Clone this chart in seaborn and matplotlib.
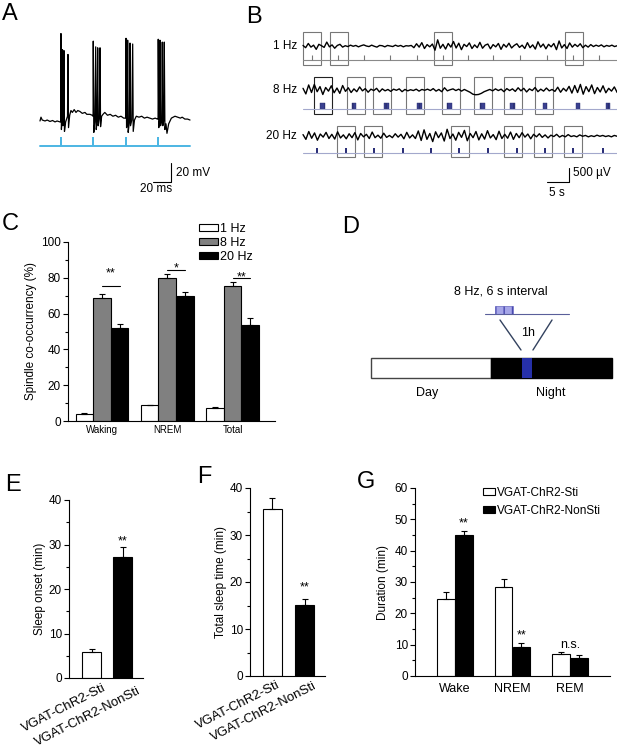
import numpy as np
import pandas as pd
import matplotlib
matplotlib.use("Agg")
import matplotlib.pyplot as plt
from matplotlib.patches import Rectangle, Patch
from matplotlib.ticker import MultipleLocator
from matplotlib.transforms import ScaledTranslation
import seaborn as sns

# ---------------- data ----------------
# A: whole-cell trace (ms, mV) and light pulses (ms)
a_time = [0, 1.1, 2.5, 5.6, 8, 11.1, 14, 16.7, 19, 22.2,
          23.0, 23.3, 23.8, 24.5, 25.0, 25.5, 26.2, 26.7, 27.2, 28.5, 30.6, 31.1, 31.7, 33, 34.4, 36, 38, 40, 42, 44.4, 47, 50, 52, 55.6, 58,
          59.0, 59.2, 59.8, 61.0, 61.9, 62.5, 63.5, 64.1, 64.7, 66.0, 66.7, 67.3, 68.5, 70, 72, 75, 78, 81, 84, 87, 90, 93,
          95.3, 95.6, 96.2, 97.0, 97.4, 98.0, 99.3, 100.0, 100.6, 102, 103, 103.6, 105, 107, 110, 113, 116, 119, 122, 125, 128, 130.5,
          131.2, 131.4, 132.0, 133.0, 133.3, 134.0, 135.3, 135.9, 136.5, 137.5, 138.1, 138.8, 140, 141.1, 143, 146, 150, 153, 156, 158, 161, 164, 166.7]
a_volt = [-61, -57, -60, -61, -60, -61.5, -60.5, -62, -61, -62,
          -62, 31, -70, -60, 14, -66, -58, 13, -72, -62, -56, 9, -68, -55, -50, -52, -49, -52, -50, -51, -53, -52, -54, -54, -55,
          -56, 23, -73, -62, 17, -70, -60, 16, -66, -58, 16, -67, -56, -54, -52, -55, -54, -56, -55, -57, -56, -58,
          -58, 26, -68, -60, 24, -73, -62, 21, -66, -60, 20, -72, -60, -56, -57, -56, -58, -57, -58, -59, -58, -59,
          -59, 25, -68, -60, 24, -66, -60, 22, -66, -60, 22, -70, -64, -74, -64, -58, -56, -57, -58, -57, -59, -59, -60]
a_pulses = [23.3, 59.2, 95.6, 131.4]
a_length = 166.7

# B: EEG traces (uV), stimulus times (s), spindle boxes (start, s)
b_rows = ["1 Hz", "8 Hz", "20 Hz"]
b_length = 71.4
eeg_1hz = [20, -60, 90, -40, 30, -120, 60, 10, -50, 140, -30, 40, -80, 20, 60, -40, 10,
           -20, 30, -10, 20, -30, 10, 40, 0, -20, 30, -10, -40, 20, 10, -30, 20, 0, -20, 30, -10, 20, -30, 10, 0, 20,
           -60, 80, -40, 120, -90, 50, -30, 70,
           -150, 220, -80, 60, -110, 90, -40,
           160, -70, 100, -130, 60, -20, 110, -90, 40, -60, 130, -80, 30, 70, -100, 50, -30, 90, -120, 60, -40, 100, -70, 20, 80, -50, 30,
           -90, 120, -60, 40, -110, 150, -40, 70, -100, 60, -30, 90, -130, 180, -70, 50, -90, 110, -40, 60, -20, 80, -60, 30,
           -40, 50, -20, 30, -10, 40, -30, 20, -10, 30, -20, 10]
eeg_8hz = [60, -140, 180, -90, 200, -60, 120, -160, 90, -40, 150, -100, 70, -120, 160, -50, 80, -90, 40, -60, 110, -30,
           50, -80, 30, -20, 60, -70, 40, -30, 20, -50, 30, -10, 40, -60, 20, -30, 10, -20, 30, -40, 20, -10, 30, -20,
           50, -40, 20, -60, 80, -30, 10, 40, -20, 30, -40, 20,
           -30, -80, -150, -170, -160, -120, -60, -20, 20, -30, 40, -20, 30, -60, 50, -20, 40, -50, 80, -30, 60, -70,
           40, -20, 90, -60, 30, -40, 70, -30, 20, -50, 100, -80, 60, -40, 130, -110, 160, -90, 200, -150, 120, -60,
           180, -130, 90, -70, 150, -100, 60, -40, 110, -90]
eeg_20hz = [50, -120, 160, -80, 110, -150, 70, -40, 130, -90, 60, -110, 150, -70, 40, -100, 80, -60, 120, -140, 90,
            -30, 60, -90, 140, -60, 30, -80, 100, -50, 20, -60, 80, -40, 60, -100, 130, -70, 40, -90, 180, -160, 220,
            -120, 90, -200, 150, -60, 110, -180, 240, -90, 70, -150, 130, -50, 200, -170, 90, -60, 160, -140, 80, -110,
            190, -70, 50, -130, 170, -90, 60, -80, 140, -120, 90, -60, 120, -40, 70, -100, 60, -30, 80, -50, 40, -70,
            30, -20, 60, -40, 20, -30, 50, -20, 10, -30, 40, -10, 20, -30, 10, -20, 30, -10, 20, -20, 10, -30, 20, -10]
stim_1hz = [2.0, 8.0, 13.9, 19.8, 25.9, 31.8, 37.5, 43.2, 49.3, 55.5, 61.4, 67.3]
stim_8hz = [4.5, 11.6, 18.9, 26.4, 33.2, 40.7, 47.7, 55.0, 62.5, 69.3]
stim_20hz = [3.2, 9.8, 16.1, 22.7, 29.1, 35.5, 42.0, 48.6, 55.0, 61.4, 68.2]
box_1hz = [0.0, 6.1, 29.8, 59.5]
box_8hz = [2.5, 10.0, 15.9, 23.4, 31.6, 38.9, 45.7, 52.7]
box_20hz = [7.7, 13.9, 33.6, 45.7, 52.5, 59.3]
box_len = 4.1

# C: spindle co-occurrence (%)
c_states = ["Waking", "NREM", "Total"]
c_freqs = ["1 Hz", "8 Hz", "20 Hz"]
c_1hz = [3.7, 8.8, 7.3]
c_8hz = [68.5, 79.9, 75.6]
c_20hz = [51.7, 69.8, 53.7]
c_1hz_err = [0.6, 0.4, 0.5]
c_8hz_err = [2.4, 2.4, 2.2]
c_20hz_err = [2.6, 2.4, 3.9]
c_sig = ["**", "*", "**"]
c_sig_y = [75.2, 84.3, 79.9]
c_star_y = [84.5, 87.3, 82.6]

# D: schedule (hours)
d_day = 12
d_night = 12
d_stim_start = 15
d_stim_len = 1

# E, F: sleep onset / total sleep (min)
ef_groups = ["VGAT-ChR2-Sti", "VGAT-ChR2-NonSti"]
e_mean = [5.9, 27.3]
e_err = [0.7, 2.1]
f_mean = [35.5, 15.2]
f_err = [2.4, 1.2]

# G: durations (min)
g_states = ["Wake", "NREM", "REM"]
g_groups = ["VGAT-ChR2-Sti", "VGAT-ChR2-NonSti"]
g_sti = [24.5, 28.5, 7.0]
g_sti_err = [2.4, 2.3, 0.7]
g_non = [45.1, 9.3, 5.9]
g_non_err = [1.2, 1.3, 0.8]
g_sig = ["**", "**", "n.s."]

# ---------------- style ----------------
W, H = 617, 755
sns.set_theme(style="ticks", rc={"axes.edgecolor": "black", "xtick.color": "black",
                                 "ytick.color": "black", "text.color": "black",
                                 "axes.labelcolor": "black", "axes.linewidth": 0.8})
plt.rcParams["font.family"] = ["Liberation Sans", "DejaVu Sans"]

fig = plt.figure(figsize=(W / 100, H / 100), dpi=100)


def px_axes(l, t, r, b):
    return fig.add_axes([l / W, 1 - b / H, (r - l) / W, (b - t) / H])


def panel_label(x, y, s):
    fig.text(x / W, 1 - y / H, s, fontsize=17, ha="left", va="top")


def style_bar_axes(ax, ymax, major, minor, ylabel, labelpad=2):
    ax.set_ylim(0, ymax)
    ax.yaxis.set_major_locator(MultipleLocator(major))
    ax.yaxis.set_minor_locator(MultipleLocator(minor))
    ax.tick_params(axis="y", which="major", length=3.5, width=0.8, labelsize=8.5, pad=1.5)
    ax.tick_params(axis="y", which="minor", length=2, width=0.8)
    ax.tick_params(axis="x", length=0)
    ax.set_xlabel("")
    ax.set_ylabel(ylabel, fontsize=8.5, labelpad=labelpad)
    sns.despine(ax=ax)


def add_errors(ax, bars, errs):
    xs = [p.get_x() + p.get_width() / 2 for p in bars]
    ys = [p.get_height() for p in bars]
    ax.errorbar(xs, ys, yerr=[np.zeros(len(errs)), errs], fmt="none", ecolor="black",
                elinewidth=0.8, capsize=2.5, capthick=0.8)
    return xs, ys


# ---------------- A ----------------
ax = px_axes(30, 25, 200, 195)
ax.set_xlim(-11.1, 177.8)
ax.set_ylim(-138.9, 40)
ax.axis("off")
ax.plot(a_time, a_volt, color="black", lw=0.9)
blue = "#4cb6e3"
ax.plot([0, a_length], [-87.4, -87.4], color=blue, lw=1.4)
for t in a_pulses:
    ax.add_patch(Rectangle((t - 1.2, -87.4), 2.4, 9.4, color=blue, lw=0))
ax.plot([145.6, 145.6, 125.6], [-105.3, -125.3, -125.3], color="black", lw=0.8)
ax.text(151, -115.3, "20 mV", fontsize=8.5, ha="left", va="center")
ax.text(129, -133, "20 ms", fontsize=8.5, ha="center", va="center")
panel_label(2, 3, "A")

# ---------------- B ----------------
ax = px_axes(240, 25, 617, 195)
ax.set_xlim(-14.32, 71.36)
ax.set_ylim(0, 170 * 35.71)
ax.axis("off")


def u(px):
    return (195 - px) * 35.71


traces = [eeg_1hz, eeg_8hz, eeg_20hz]
trace_px = [46, 90, 136]
line_px = [60, 108.5, 153]
box_px = [(32, 65), (77, 114), (126, 157)]
boxes = [box_1hz, box_8hz, box_20hz]
line_cols = ["#8a8a8a", "#a3a8cc", "#a3a8cc"]
for i, (lab, vals) in enumerate(zip(b_rows, traces)):
    t = np.linspace(0, b_length, len(vals))
    ax.plot(t, np.array(vals) + u(trace_px[i]), color="black", lw=1.0)
    ax.plot([0, b_length], [u(line_px[i])] * 2, color=line_cols[i], lw=0.8)
    ax.text(-1.4, u(trace_px[i]), lab, fontsize=8.5, ha="right", va="center")
    top, bot = box_px[i]
    for j, s in enumerate(boxes[i]):
        edge = "#222222" if (i == 1 and j == 0) else "#777777"
        ax.add_patch(Rectangle((s, u(bot)), box_len, (bot - top) * 35.71, fill=False,
                               edgecolor=edge, lw=0.8))
ax.vlines(stim_1hz, u(60), u(55), color="#777777", lw=0.8)
for s in stim_8hz:
    ax.add_patch(Rectangle((s - 0.55, u(108.5)), 1.1, 6 * 35.71, facecolor="#3a4090",
                           edgecolor="#2a2f70", lw=0.3, hatch="|||"))
for s in stim_20hz:
    ax.add_patch(Rectangle((s - 0.25, u(153)), 0.5, 5 * 35.71, color="#2b2f78", lw=0))
ax.plot([55.5, 60.5, 60.5], [u(182), u(182), u(168)], color="black", lw=0.8)
ax.text(61.4, u(173), "500 µV", fontsize=8.5, ha="left", va="center")
ax.text(57.7, u(193), "5 s", fontsize=8.5, ha="center", va="center")
panel_label(246, 6, "B")

# ---------------- C ----------------
c_df = pd.DataFrame({
    "state": c_states * 3,
    "freq": np.repeat(c_freqs, 3),
    "value": c_1hz + c_8hz + c_20hz,
})
ax = px_axes(68, 242, 275, 421)
sns.barplot(data=c_df, x="state", y="value", hue="freq", order=c_states, hue_order=c_freqs,
            palette=["white", "#808080", "black"], edgecolor="black", linewidth=0.8,
            width=0.81, errorbar=None, legend=False, ax=ax)
centers = []
for cont, errs in zip(ax.containers, [c_1hz_err, c_8hz_err, c_20hz_err]):
    xs, _ = add_errors(ax, list(cont), errs)
    centers.append(xs)
ax.set_xlim(-0.52, 2.65)
style_bar_axes(ax, 100, 20, 10, "Spindle co-occurrency (%)", labelpad=3)
ax.tick_params(axis="x", labelsize=7, pad=3)
for i in range(3):
    x1, x2 = centers[1][i], centers[2][i]
    ax.plot([x1, x2], [c_sig_y[i]] * 2, color="black", lw=0.8)
    ax.annotate(c_sig[i], ((x1 + x2) / 2, c_star_y[i]), xytext=(0, -5), textcoords="offset points",
                ha="center", va="baseline", fontsize=9)
ax.legend(handles=[Patch(facecolor=c, edgecolor="black", lw=0.8) for c in ["white", "#808080", "black"]],
          labels=c_freqs, loc="upper left", bbox_to_anchor=(199 / W, 1 - 223 / H),
          bbox_transform=fig.transFigure, frameon=False, fontsize=9, handlelength=1.5,
          handleheight=0.55, handletextpad=0.15, labelspacing=0.15, borderpad=0, borderaxespad=0)
panel_label(2, 213, "C")

# ---------------- D ----------------
ax = px_axes(330, 270, 617, 410)
ax.set_xlim(-4.08, 24.5)
ax.set_ylim(410, 270)
ax.axis("off")
ax.add_patch(Rectangle((0, 358), d_day, 20, facecolor="white", edgecolor="#444444", lw=1))
ax.add_patch(Rectangle((d_day, 358), d_night, 20, facecolor="black", edgecolor="black", lw=1))
ax.add_patch(Rectangle((d_stim_start, 358), d_stim_len, 20, facecolor="#2630a8", lw=0))
ax.plot([11.4, 19.7], [314, 314], color="#5a5f9a", lw=0.8)
ax.add_patch(Rectangle((12.35, 306), 1.8, 8, facecolor="#a6a6e8", edgecolor="#4a4ab0", lw=0.4, hatch="||"))
ax.plot([12.85, 14.94], [320, 350], color="#33425f", lw=1)
ax.plot([18.03, 16.13], [320, 350], color="#33425f", lw=1)
ax.text(12.95, 291, "8 Hz, 6 s interval", fontsize=9, ha="center", va="center")
ax.text(15.6, 333, "1h", fontsize=9, ha="center", va="center")
ax.text(5.6, 393, "Day", fontsize=9, ha="center", va="center")
ax.text(17.9, 393, "Night", fontsize=9, ha="center", va="center")
panel_label(342, 216, "D")


# ---------------- E, F ----------------
def two_bar_panel(box, xlim, width, means, errs, ymax, ylabel, star_y, offsets):
    ax = px_axes(*box)
    sns.barplot(x=ef_groups, y=means, hue=ef_groups, palette=["white", "black"], width=width,
                edgecolor="black", linewidth=0.8, errorbar=None, legend=False, ax=ax)
    bars = [p for c in ax.containers for p in c]
    add_errors(ax, bars, errs)
    ax.set_xlim(*xlim)
    style_bar_axes(ax, ymax, 10, 5, ylabel)
    ax.set_xticks([0, 1])
    ax.set_xticklabels([])
    for i, (lab, (dx, dy)) in enumerate(zip(ef_groups, offsets)):
        ax.text(i, 0, lab, fontsize=9.5, rotation=27, rotation_mode="anchor", ha="right", va="top",
                transform=ax.transData + ScaledTranslation(dx / 100, dy / 100, fig.dpi_scale_trans))
    ax.text(1, star_y, "**", fontsize=9, ha="center", va="center")
    return ax


two_bar_panel((69, 500, 143, 678), (-0.726, 1.66), 0.61, e_mean, e_err, 40,
              "Sleep onset (min)", 30.6, [(10.5, -4), (14.5, -7)])
panel_label(5, 474, "E")
two_bar_panel((250, 488, 325, 676), (-0.69, 1.62), 0.58, f_mean, f_err, 40,
              "Total sleep time (min)", 18.8, [(4.5, -3), (8, -4)])
panel_label(197, 466, "F")

# ---------------- G ----------------
g_df = pd.DataFrame({
    "state": g_states * 2,
    "group": np.repeat(g_groups, 3),
    "value": g_sti + g_non,
})
ax = px_axes(415, 488, 610, 676)
sns.barplot(data=g_df, x="state", y="value", hue="group", order=g_states, hue_order=g_groups,
            palette=["white", "black"], edgecolor="black", linewidth=0.8, width=0.626,
            errorbar=None, legend=False, ax=ax)
add_errors(ax, list(ax.containers[0]), g_sti_err)
xs_non, _ = add_errors(ax, list(ax.containers[1]), g_non_err)
ax.set_xlim(-0.696, 2.696)
style_bar_axes(ax, 60, 10, 5, "Duration (min)", labelpad=4)
ax.tick_params(axis="x", labelsize=9, pad=5)
for i, s in enumerate(g_sig):
    if s == "n.s.":
        ax.text(i, 9.9, s, fontsize=9, ha="center", va="center")
    else:
        ax.text(xs_non[i], g_non[i] + g_non_err[i] + 2.5, s, fontsize=9, ha="center", va="center")
ax.legend(handles=[Patch(facecolor=c, edgecolor="black", lw=0.8) for c in ["white", "black"]],
          labels=g_groups, loc="upper left", bbox_to_anchor=(483 / W, 1 - 487 / H),
          bbox_transform=fig.transFigure, frameon=False, fontsize=8.5, handlelength=1.05,
          handleheight=0.5, handletextpad=0.15, labelspacing=0.5, borderpad=0, borderaxespad=0)
panel_label(357, 471, "G")

fig.savefig("out.png", dpi=100)
